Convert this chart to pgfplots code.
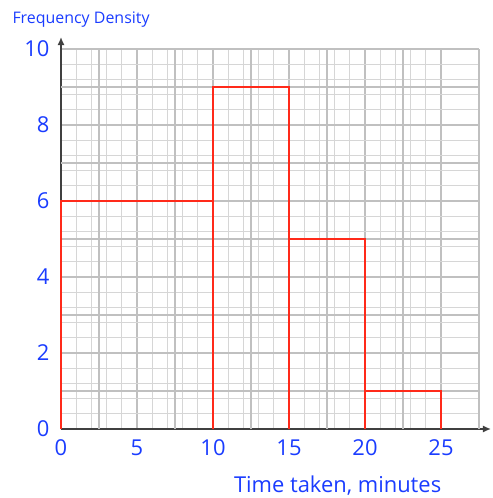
\documentclass[border=0pt]{standalone}
\usepackage{pgfplots}
\pgfplotsset{compat=1.18}
\usepackage{fontspec}
\setmainfont{Open Sans}
\usetikzlibrary{arrows.meta}
\definecolor{lblue}{HTML}{1A3CFF}
\definecolor{hred}{HTML}{FF2A1A}
\definecolor{gmaj}{HTML}{C0C0C0}
\definecolor{gmin}{HTML}{D6D6D6}
\begin{document}
\begin{tikzpicture}
\path[use as bounding box] (-61bp,-69bp) rectangle (432bp,429bp);
\begin{axis}[
  scale only axis,
  width=418bp, height=380bp,
  xmin=0, xmax=27.5, ymin=0, ymax=10,
  axis lines=left,
  axis line style={black!75, line width=1.4pt, -{Latex[length=8pt,width=7pt]}, shorten >=-12pt},
  xtick={0,5,10,15,20,25},
  ytick={0,2,4,6,8,10},
  extra x ticks={2.5,7.5,12.5,17.5,22.5,27.5},
  extra x tick labels={},
  extra y ticks={1,3,5,7,9},
  extra y tick labels={},
  extra tick style={grid=major, major grid style={gmaj, line width=1.1pt}},
  minor x tick num=4,
  minor y tick num=4,
  grid=both,
  major grid style={gmaj, line width=1.1pt},
  minor grid style={gmin, line width=0.7pt},
  major tick length=0pt, minor tick length=0pt,
  tick label style={font=\fontsize{22}{24}\selectfont, text=lblue},
  /pgf/number format/assume math mode=true,
  xticklabel style={yshift=-7pt},
  yticklabel style={xshift=-8pt},
  clip=false,
]
\addplot[hred, line width=1.3pt] coordinates {
  (0,0) (0,6) (10,6) (10,0) (10,9) (15,9) (15,0) (15,5) (20,5) (20,0) (20,1) (25,1) (25,0)
};
\node[anchor=west, text=lblue, font=\fontsize{16}{18}\selectfont] at (axis cs:0,10) [xshift=-52bp, yshift=29bp] {Frequency Density};
\node[text=lblue, font=\fontsize{22}{24}\selectfont] at (axis cs:18.2,0) [yshift=-57bp] {Time taken, minutes};
\end{axis}
\end{tikzpicture}
\end{document}
